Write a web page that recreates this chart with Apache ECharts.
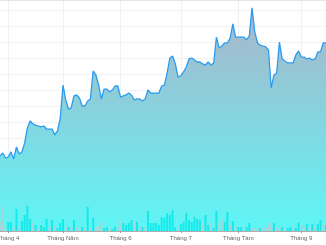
<!DOCTYPE html>
<html>
<head>
<meta charset="utf-8">
<script src="https://cdn.jsdelivr.net/npm/echarts@6/dist/echarts.min.js"></script>
<style>
html,body{margin:0;padding:0;background:#fff;}
#chart{width:326px;height:245px;}
</style>
</head>
<body>
<div id="chart"></div>
<script>
const categories = [
'27/03','30/03','31/03',
'01/04','02/04','03/04','06/04','07/04','08/04','09/04','10/04','13/04','14/04','15/04','16/04','17/04','20/04','21/04','22/04','23/04','24/04','27/04','28/04',
'01/05','04/05','05/05','06/05','07/05','08/05','11/05','12/05','13/05','14/05','15/05','18/05','19/05','20/05','21/05','22/05','25/05','26/05','27/05','28/05','29/05',
'01/06','02/06','03/06','04/06','05/06','08/06','09/06','10/06','11/06','12/06','15/06','16/06','17/06','18/06','19/06','22/06','23/06','24/06','25/06','26/06','29/06','30/06',
'01/07','02/07','03/07','06/07','07/07','08/07','09/07','10/07','13/07','14/07','15/07','16/07','17/07','20/07','21/07','22/07','23/07','24/07','27/07','28/07','29/07',
'03/08','04/08','05/08','06/08','07/08','10/08','11/08','12/08','13/08','14/08','17/08','18/08','19/08','20/08','21/08','24/08','25/08','26/08','27/08','28/08','29/08','31/08','01/08',
'01/09','02/09','03/09','04/09','07/09','08/09','09/09','10/09','11/09','14/09'
];
const monthNames = {'04':'Tháng 4','05':'Tháng Năm','06':'Tháng 6','07':'Tháng 7','08':'Tháng Tám','09':'Tháng 9'};

const price = [
20.88,21.06,20.75,20.81,21.13,20.69,21.44,21.00,21.13,21.69,
22.63,23.06,22.88,22.81,22.75,22.69,22.75,22.56,22.56,22.56,
22.19,22.44,23.25,25.31,24.38,23.81,23.88,24.63,24.69,24.50,
24.00,24.00,24.31,24.44,26.19,25.94,25.31,24.44,25.06,25.06,
24.88,25.00,25.25,25.25,24.56,24.63,24.69,24.81,24.69,24.38,
24.44,24.44,24.31,24.44,25.00,24.81,24.81,24.81,24.81,25.25,
25.31,26.06,27.00,27.13,26.63,25.81,25.88,26.13,26.44,26.94,
27.00,26.88,26.75,26.75,26.63,26.56,26.75,26.56,26.69,28.31,
27.63,27.75,27.94,27.94,28.25,29.13,28.31,28.31,28.31,28.31,
28.13,28.38,30.13,28.63,27.94,27.81,27.75,27.69,27.50,25.13,
25.94,26.06,28.00,26.94,26.81,26.69,26.69,26.69,27.19,27.44,
27.06,27.06,26.94,27.00,26.88,26.94,27.38,27.38,27.94,27.94
];

const volume = [
450,1200,200,450,450,200,1100,200,500,800,
1250,600,400,300,150,300,200,600,200,550,
250,150,400,600,200,200,200,550,200,150,
200,150,1200,200,650,200,250,450,150,200,
200,100,200,200,550,400,300,400,550,500,
450,200,200,200,1000,400,400,400,300,700,
650,900,800,1050,200,150,350,450,900,550,
450,700,600,550,450,800,300,400,150,1000,
400,600,450,950,400,500,250,200,200,200,
200,400,150,150,150,150,150,200,300,450,
400,200,150,200,150,150,200,200,150,400,
300,200,350,200,350,250,350,550,400,300
];

// 1 = up day (cyan), 0 = down day (grey)
const volumeUp = [
0,0,0,1,1,0,1,0,1,1,
1,1,0,1,0,1,1,1,0,1,
0,1,1,1,0,1,0,1,0,0,
1,0,1,0,1,0,0,0,1,1,
0,1,1,0,0,1,1,1,1,0,
1,0,1,0,1,1,1,1,1,1,
1,1,1,1,1,0,1,1,1,1,
1,1,1,1,0,1,1,0,1,1,
0,0,1,1,0,1,0,1,1,0,
1,1,0,0,0,1,0,0,0,0,
1,0,0,1,0,1,1,0,1,1,
0,0,1,0,1,0,1,1,0,1
];

const month = c => c.slice(3);
const isMonthStart = (idx) => idx > 0 && month(categories[idx]) !== month(categories[idx - 1]);

const chart = echarts.init(document.getElementById('chart'), null, {renderer: 'canvas'});
chart.setOption({
  animation: false,
  backgroundColor: '#ffffff',
  grid: [
    {left: 0, right: 0, top: 10, height: 208, containLabel: false, outerBoundsMode: 'none'},
    {left: 0, right: 0, top: 0, height: 231, containLabel: false, outerBoundsMode: 'none'}
  ],
  xAxis: [
    {gridIndex: 0, type: 'value', show: false},
    {
      gridIndex: 1, type: 'category', data: categories, boundaryGap: false,
      axisLine: {show: true, lineStyle: {color: '#adadad', width: 1}},
      axisTick: {show: true, interval: isMonthStart, length: 2, lineStyle: {color: '#9a9a9a'}},
      axisLabel: {
        interval: isMonthStart, margin: 4, fontSize: 6, color: '#666',
        fontFamily: 'Liberation Sans, Arial, sans-serif',
        formatter: v => monthNames[month(v)] || ''
      },
      splitLine: {show: true, interval: isMonthStart, lineStyle: {color: '#ecf2f6', width: 1}}
    },
    {
      gridIndex: 1, type: 'category', data: categories, boundaryGap: false, position: 'top',
      axisLine: {show: true, lineStyle: {color: '#e6e6e6'}},
      axisTick: {show: false}, axisLabel: {show: false}, splitLine: {show: false}
    }
  ],
  yAxis: [
    {
      gridIndex: 0, type: 'value', min: 0, max: 13, interval: 1,
      axisLine: {show: false}, axisTick: {show: false}, axisLabel: {show: false},
      splitLine: {show: true, lineStyle: {color: '#eff3f7', width: 1}}
    },
    {gridIndex: 1, type: 'value', min: 16.1875, max: 30.625, show: false, splitLine: {show: false}},
    {gridIndex: 1, type: 'value', min: 0, max: 11550, show: false, splitLine: {show: false}}
  ],
  series: [
    {
      type: 'line', xAxisIndex: 1, yAxisIndex: 1, data: price,
      showSymbol: false, symbol: 'none',
      lineStyle: {color: '#2b9cf0', width: 1.3},
      areaStyle: {
        opacity: 1,
        color: new echarts.graphic.LinearGradient(0, 0, 0, 1, [
          {offset: 0, color: '#abb4c8'},
          {offset: 1, color: '#5ef6f6'}
        ])
      },
      z: 2
    },
    {
      type: 'bar', xAxisIndex: 1, yAxisIndex: 2,
      data: volume.map((v, i) => ({
        value: v,
        itemStyle: {color: volumeUp[i] ? '#14eaea' : '#a8d4d8'}
      })),
      barWidth: 2,
      z: 3
    }
  ]
});
</script>
</body>
</html>
